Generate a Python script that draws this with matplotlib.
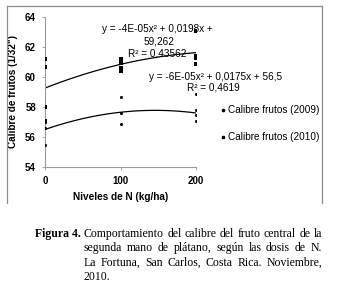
import matplotlib
matplotlib.use("Agg")
import matplotlib.pyplot as plt
import numpy as np
from matplotlib.lines import Line2D

# data
dosis = [0, 100, 200]
x2009 = [0, 0, 0, 100, 100, 100, 200, 200, 200, 200]
y2009 = [57.0, 56.6, 55.5, 58.7, 57.6, 56.9, 58.85, 57.8, 57.5, 57.1]
x2010 = [0, 0, 0, 0, 100, 100, 100, 100, 200, 200, 200, 200]
y2010 = [61.2, 60.7, 58.0, 57.1, 61.2, 60.95, 60.6, 60.4, 63.1, 61.4, 61.3, 60.9]
coef2009 = [-6e-05, 0.0175, 56.5]
coef2010 = [-4e-05, 0.0198, 59.262]
yticks = [54, 56, 58, 60, 62, 64]

caption = ["Comportamiento del calibre del fruto central de la",
           "segunda mano de plátano, según las dosis de N.",
           "La Fortuna, San Carlos, Costa Rica. Noviembre,",
           "2010."]

W, H = 339, 282
def px(x, y):
    return x / W, 1 - y / H

plt.rcParams['font.family'] = ['Liberation Sans', 'DejaVu Sans']
fig = plt.figure(figsize=(W / 100, H / 100), dpi=100)
ax = fig.add_axes([45 / W, 1 - 167 / H, (196 - 45) / W, 150 / H])

xx = np.linspace(0, 200, 100)
ax.plot(xx, np.polyval(coef2010, xx), color='black', lw=0.9)
ax.plot(xx, np.polyval(coef2009, xx), color='black', lw=0.9)
ax.scatter(x2009, y2009, s=5, marker='o', color='black', zorder=3, linewidths=0)
ax.scatter(x2010, y2010, s=8, marker='s', color='black', zorder=3, linewidths=0)

ax.set_xlim(0, 200)
ax.set_ylim(54, 64)
ax.set_xticks(dosis)
ax.set_yticks(yticks)
for s in ['top', 'right']:
    ax.spines[s].set_visible(False)
for s in ['left', 'bottom']:
    ax.spines[s].set_color('#9a9a9a')
    ax.spines[s].set_linewidth(0.8)
ax.tick_params(colors='#9a9a9a', length=2.5, width=0.6, labelcolor='black',
               labelsize=7, pad=4)
for lab in ax.get_xticklabels() + ax.get_yticklabels():
    lab.set_fontweight('bold')
ax.set_xlabel('Niveles de N (kg/ha)', fontsize=7.2, fontweight='bold', labelpad=4)
ax.set_ylabel('Calibre de frutos (1/32")', fontsize=7.2, fontweight='bold', labelpad=5)
ax.patch.set_visible(False)

# equations
eq = dict(fontsize=7.2, ha='center', va='center', zorder=1)
fig.text(*px(157, 29), 'y = -4E-05x² + 0,0198x +', **eq)
fig.text(*px(159, 42), '59,262', **eq)
fig.text(*px(157, 54), 'R² = 0,43562', **eq)
fig.text(*px(216, 77), 'y = -6E-05x² + 0,0175x + 56,5', **eq)
fig.text(*px(213, 88), 'R² = 0,4619', **eq)

# legend
handles = [Line2D([], [], ls='', marker='o', ms=1.6, color='black'),
           Line2D([], [], ls='', marker='s', ms=1.6, color='black')]
fig.legend(handles, ['Calibre frutos (2009)', 'Calibre frutos (2010)'],
           loc='upper left', bbox_to_anchor=px(221, 105), frameon=False,
           fontsize=7.2, handlelength=0.4, handletextpad=0.35, labelspacing=1.75,
           borderaxespad=0, borderpad=0)

# outer frame (open at bottom)
fc = '#8c8c8c'
fig.add_artist(Line2D([7 / W, 7 / W], [1 - 203 / H, 1 - 6 / H], color=fc, lw=0.9))
fig.add_artist(Line2D([322 / W, 322 / W], [1 - 203 / H, 1 - 6 / H], color=fc, lw=0.9))
fig.add_artist(Line2D([7 / W, 322 / W], [1 - 6 / H, 1 - 6 / H], color=fc, lw=0.9))

# caption, justified
serif = dict(family=['Liberation Serif', 'DejaVu Serif'], fontsize=8.45, va='baseline')
fig.text(*px(35, 237), 'Figura 4.', fontweight='bold', **serif)
renderer = fig.canvas.get_renderer()
x0, x1 = 84, 322
for i, line in enumerate(caption):
    y = 237 + i * 14.4
    words = line.split()
    texts = [fig.text(0, 0, w, **serif) for w in words]
    widths = [t.get_window_extent(renderer).width for t in texts]
    if i < len(caption) - 1 and len(words) > 1:
        gap = (x1 - x0 - sum(widths)) / (len(words) - 1)
    else:
        gap = 3
    x = x0
    for t, w in zip(texts, widths):
        t.set_position(px(x, y))
        x += w + gap

fig.savefig('out.png', dpi=100)
